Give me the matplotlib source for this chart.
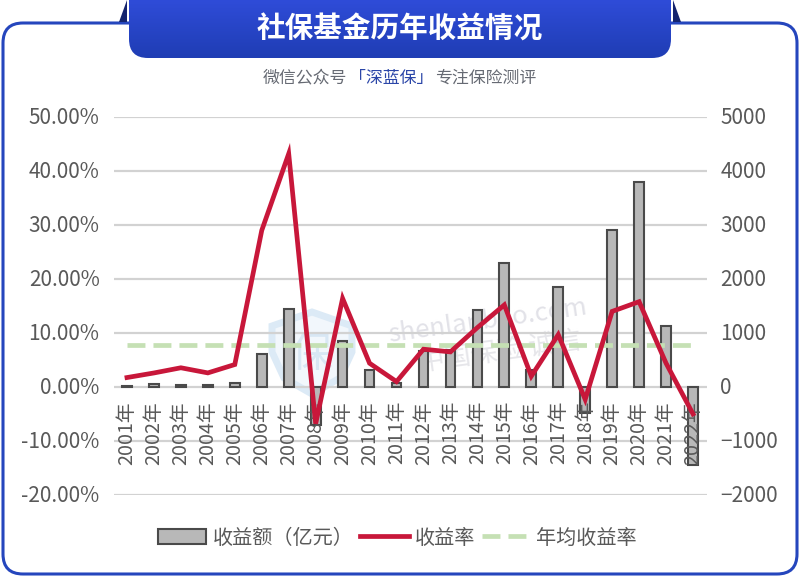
import numpy as np
import matplotlib
matplotlib.use('Agg')
import matplotlib.pyplot as plt
from matplotlib.patches import FancyBboxPatch, Polygon
from matplotlib.colors import LinearSegmentedColormap
from matplotlib.transforms import ScaledTranslation

plt.rcParams['font.family'] = ['Noto Sans CJK SC', 'DejaVu Sans']

years = [f'{y}年' for y in range(2001, 2023)]
amount = [25, 50, 40, 36, 70, 620, 1450, -700, 850, 320, 70, 670, 690, 1420, 2290, 320, 1850, -480, 2900, 3790, 1130, -1450]
rate = [1.75, 2.6, 3.56, 2.61, 4.16, 29.0, 43.2, -6.8, 16.4, 4.4, 1.0, 7.0, 6.5, 11.0, 15.2, 2.0, 9.7, -2.3, 14.0, 15.8, 4.4, -5.0]
avg_rate = [7.7] * 22
left_ticks = [50, 40, 30, 20, 10, 0, -10, -20]
right_ticks = [5000, 4000, 3000, 2000, 1000, 0, -1000, -2000]

W, H = 800, 579
GREY = '#595959'
fig = plt.figure(figsize=(8, 5.79), dpi=100, facecolor='white')

# decoration layer in pixel coordinates
bg = fig.add_axes([0, 0, 1, 1], zorder=0)
bg.set_xlim(0, W); bg.set_ylim(H, 0); bg.axis('off')
bg.add_patch(FancyBboxPatch((3, 23), 794, 551, boxstyle='round,pad=0,rounding_size=20',
                            fc='white', ec='#2546bd', lw=2.2))
bg.add_patch(Polygon([[119, 22], [127, 22], [127, 0]], fc='#14246e', ec='none', zorder=2))
bg.add_patch(Polygon([[681, 22], [673, 22], [673, 0]], fc='#14246e', ec='none', zorder=2))
cmap = LinearSegmentedColormap.from_list('hdr', ['#2f4cd8', '#1f3db4'])
hdr = FancyBboxPatch((129, -30), 542, 88, boxstyle='round,pad=0,rounding_size=19',
                     fc='none', ec='none', zorder=3)
bg.add_patch(hdr)
im = bg.imshow(np.linspace(0, 1, 64)[:, None], extent=(127, 673, 58, 0), aspect='auto', cmap=cmap, zorder=3)
im.set_clip_path(hdr)
bg.set_xlim(0, W); bg.set_ylim(H, 0)
bg.text(400, 28.5, '社保基金历年收益情况', color='white', fontsize=20.6, fontweight='bold', ha='center', va='center', zorder=4)
for px, txt, col in [(263, '微信公众号', '#666a73'), (349, '「深蓝保」', '#2b46a8'), (435, '专注保险测评', '#666a73')]:
    bg.text(px, 77.5, txt, color=col, fontsize=12.2, ha='left', va='center')

# faint watermark
bg.add_patch(Polygon([[312, 312], [352, 326], [352, 352], [340, 378], [312, 394], [284, 378], [272, 352], [272, 326]],
                     fc='#f2f7fc', ec='#dceaf6', lw=5))
bg.text(312, 356, '保', color='#d8e7f4', fontsize=30, ha='center', va='center')
bg.text(488, 321, 'shenlanbao.com', color='#e2e2e8', fontsize=18.5, rotation=8, ha='center', va='center')
bg.text(500, 352, '中国保险 诚信', color='#e6e6ea', fontsize=19, rotation=8, ha='center', va='center')

# chart
ax = fig.add_axes([113.5 / W, 1 - 495 / H, 593 / W, 378 / H], zorder=2)
ax.patch.set_alpha(0)
ax.set_ylim(-20, 50)
ax.set_yticks(left_ticks)
ax.set_yticklabels([f'{v:.2f}%' for v in left_ticks])
x = np.arange(len(years))
ax.set_xlim(-0.5, 21.5)
ax.set_xticks([])
ax.tick_params(axis='y', length=0, labelsize=15, labelcolor=GREY, pad=10)
ax.grid(axis='y', color='#d2d2d2', lw=1.6)
ax.set_axisbelow(True)
for s in ax.spines.values():
    s.set_visible(False)

ax2 = ax.twinx()
ax2.patch.set_alpha(0)
ax2.set_ylim(-2000, 5000)
ax2.set_yticks(right_ticks)
ax2.tick_params(axis='y', length=0, labelsize=15, labelcolor=GREY, pad=10)
for s in ax2.spines.values():
    s.set_visible(False)
bars = ax2.bar(x, amount, width=0.36, color='#b8b8b8', edgecolor='#4a4a4a', lw=1.5, label='收益额（亿元）', zorder=2)
l1, = ax2.plot(x, np.array(rate) * 100, color='#c8173a', lw=3.4, solid_joinstyle='miter', label='收益率', zorder=4)
l2, = ax2.plot(x, np.array(avg_rate) * 100, color='#c5e0b4', lw=3.4, dashes=(3.8, 1.7), label='年均收益率', zorder=3)
for xi, lab in zip(x, years):
    ax2.annotate(lab, (xi, 0), xytext=(0, -10), textcoords='offset points', rotation=90,
                 ha='center', va='top', fontsize=14.2, color=GREY, annotation_clip=False, zorder=3)

for tick_ax in (ax, ax2):
    for lab in tick_ax.get_yticklabels():
        lab.set_transform(lab.get_transform() + ScaledTranslation(0, 1.5 / 100, fig.dpi_scale_trans))

fig.legend(handles=[bars, l1, l2], loc='center', bbox_to_anchor=(397.5 / W, 1 - 538 / H), ncol=3, frameon=False,
           fontsize=14.5, labelcolor=GREY, handlelength=2.4, handletextpad=0.3, columnspacing=0.35, handleheight=0.7)
fig.savefig('out.png', dpi=100)
